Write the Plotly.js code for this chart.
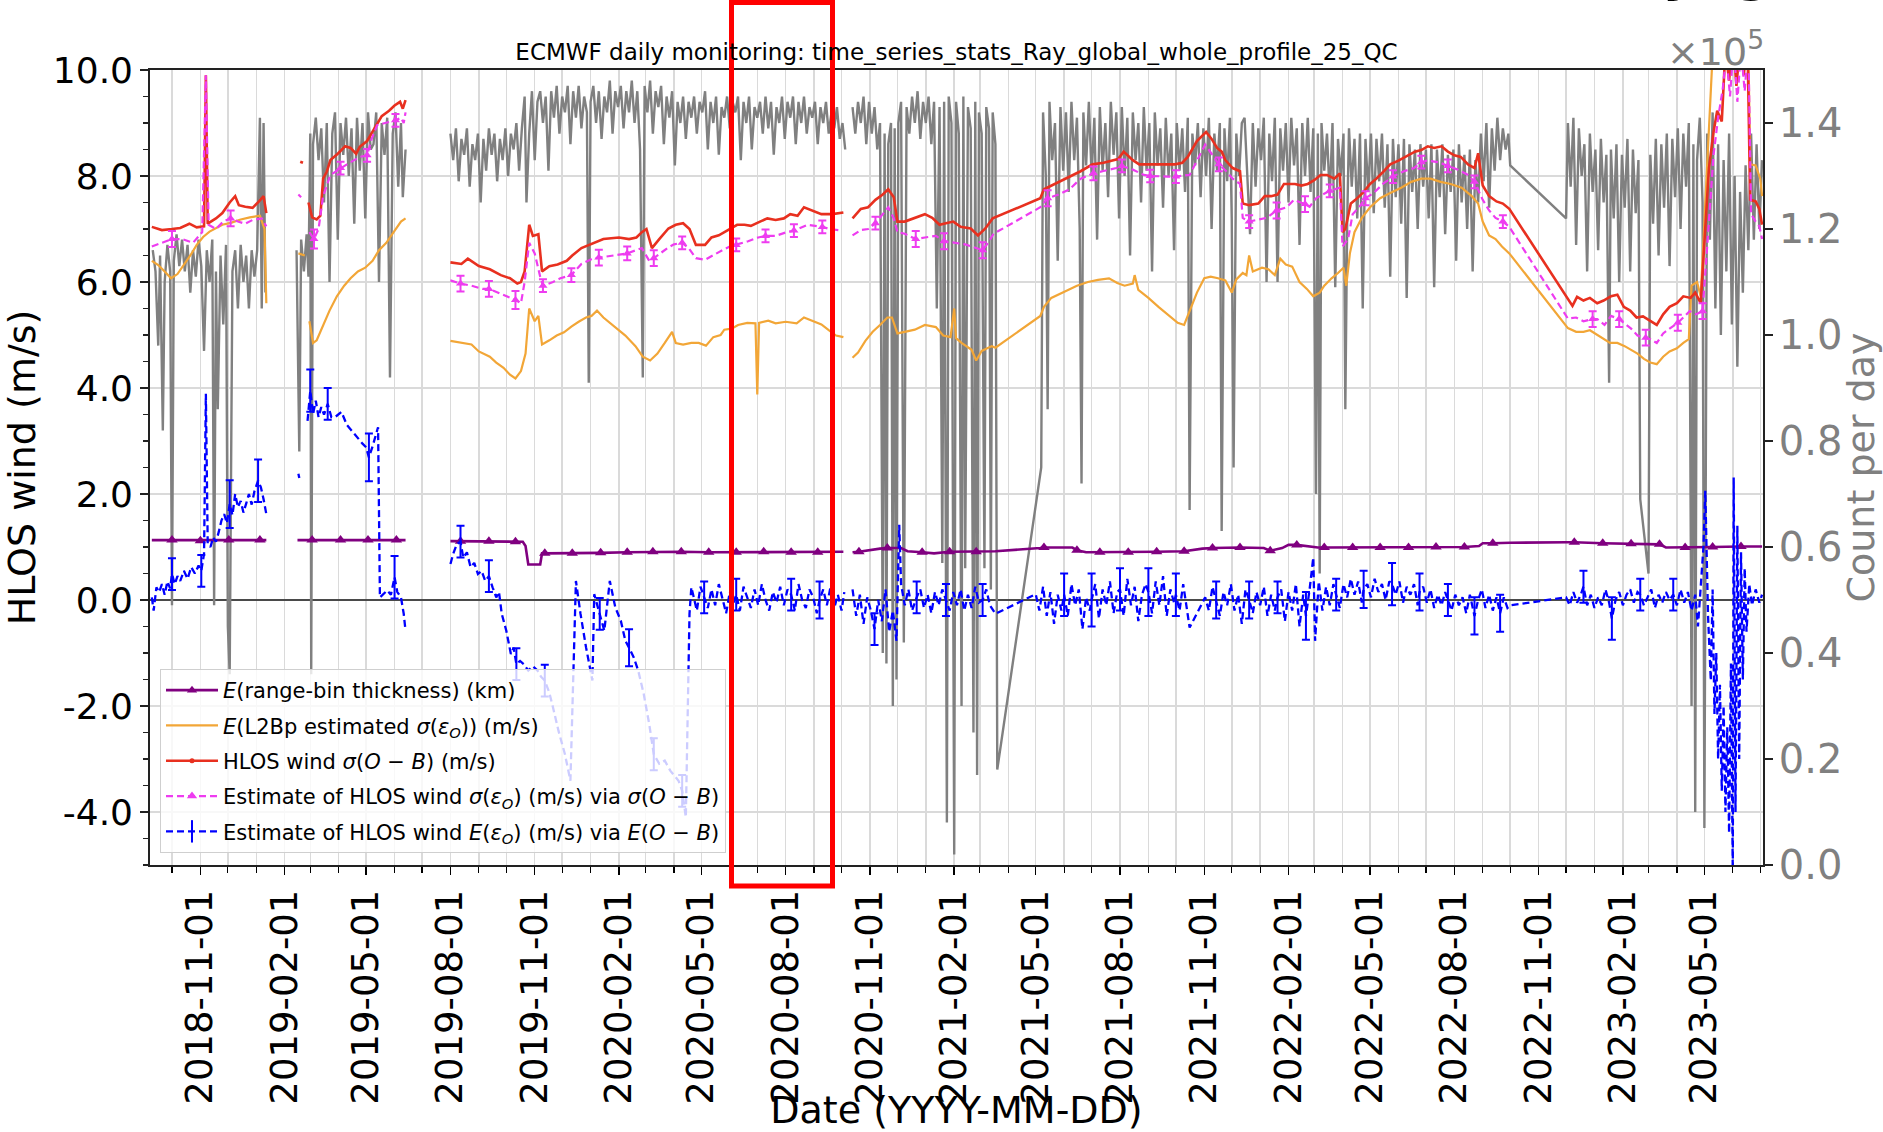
<!DOCTYPE html>
<html>
<head>
<meta charset="utf-8">
<script src="https://cdn.plot.ly/plotly-3.0.1.min.js"></script>
<style>
  html, body { margin: 0; padding: 0; background: #ffffff; }
  #chart { width: 1883px; height: 1132px; }
</style>
</head>
<body>
<div id="chart"></div>
<script>
// ECMWF daily monitoring of Aeolus Rayleigh HLOS winds (global, whole profile, QC applied).
// Each entry: [date, value] or [date, value, extra]; null values break the line.

// Count per day (units of 1e5), right axis
const countPerDay = [
  ['2018-09-10',1.16],['2018-09-13',1.12],['2018-09-16',0.98],['2018-09-18',1.15],['2018-09-21',0.82],['2018-09-23',1.10],
  ['2018-09-26',1.17],['2018-09-29',1.12],['2018-10-01',0.49],['2018-10-03',1.14],['2018-10-06',1.19],['2018-10-09',1.13],
  ['2018-10-12',1.18],['2018-10-15',1.12],['2018-10-18',1.17],['2018-10-21',1.08],['2018-10-24',1.16],['2018-10-27',1.11],
  ['2018-10-30',1.18],['2018-11-02',1.13],['2018-11-05',0.97],['2018-11-08',1.16],['2018-11-11',1.10],['2018-11-14',1.18],
  ['2018-11-16',0.49],['2018-11-18',1.12],['2018-11-20',0.86],['2018-11-23',1.15],['2018-11-26',1.02],['2018-11-29',1.17],
  ['2018-12-01',0.45],['2018-12-03',0.36],['2018-12-06',1.12],['2018-12-09',1.16],['2018-12-12',1.05],['2018-12-15',1.17],
  ['2018-12-18',1.10],['2018-12-21',1.15],['2018-12-24',1.05],['2018-12-27',1.16],['2018-12-30',1.11],['2019-01-02',1.16],
  ['2019-01-05',1.41],['2019-01-07',1.05],['2019-01-09',1.40],['2019-01-11',1.08],
  ['2019-01-20',null],
  ['2019-02-14',1.16],['2019-02-17',0.78],['2019-02-19',1.18],['2019-02-22',1.12],['2019-02-25',1.19],['2019-02-27',1.11],
  ['2019-03-01',1.38],['2019-03-02',0.36],['2019-03-04',1.36],['2019-03-07',1.41],['2019-03-10',1.33],['2019-03-13',1.39],
  ['2019-03-16',1.25],['2019-03-19',1.40],['2019-03-22',1.10],['2019-03-25',1.38],['2019-03-28',1.42],['2019-03-31',1.18],
  ['2019-04-03',1.40],['2019-04-06',1.34],['2019-04-09',1.41],['2019-04-12',1.30],['2019-04-15',1.39],['2019-04-18',1.21],
  ['2019-04-21',1.41],['2019-04-24',1.31],['2019-04-27',1.40],['2019-04-30',1.22],['2019-05-03',1.42],['2019-05-06',1.35],
  ['2019-05-09',1.36],['2019-05-12',1.42],['2019-05-15',1.10],['2019-05-18',1.40],['2019-05-21',1.34],['2019-05-24',1.41],
  ['2019-05-27',0.92],['2019-05-30',1.38],['2019-06-02',1.42],['2019-06-05',1.28],['2019-06-08',1.40],['2019-06-10',1.26],
  ['2019-06-13',1.35],
  ['2019-07-01',null],
  ['2019-08-01',1.38],['2019-08-04',1.33],['2019-08-07',1.39],['2019-08-10',1.29],['2019-08-13',1.37],['2019-08-16',1.34],
  ['2019-08-19',1.39],['2019-08-22',1.28],['2019-08-25',1.36],['2019-08-28',1.33],['2019-08-31',1.38],['2019-09-03',1.25],
  ['2019-09-06',1.37],['2019-09-09',1.31],['2019-09-12',1.39],['2019-09-15',1.34],['2019-09-18',1.38],['2019-09-21',1.29],
  ['2019-09-24',1.37],['2019-09-27',1.33],['2019-09-30',1.39],['2019-10-03',1.30],['2019-10-06',1.38],['2019-10-09',1.35],
  ['2019-10-12',1.40],['2019-10-15',1.31],['2019-10-18',1.39],['2019-10-21',1.45],['2019-10-23',1.25],['2019-10-26',1.38],
  ['2019-10-29',1.46],['2019-11-01',1.33],['2019-11-04',1.44],['2019-11-07',1.46],['2019-11-10',1.40],['2019-11-13',1.45],
  ['2019-11-16',1.31],['2019-11-19',1.46],['2019-11-22',1.41],['2019-11-25',1.47],['2019-11-28',1.38],['2019-12-01',1.45],
  ['2019-12-04',1.42],['2019-12-07',1.47],['2019-12-10',1.36],['2019-12-13',1.46],['2019-12-16',1.41],['2019-12-19',1.47],
  ['2019-12-22',1.39],['2019-12-25',1.45],['2019-12-28',1.42],['2019-12-30',0.91],['2020-01-01',1.44],['2020-01-04',1.47],
  ['2020-01-07',1.40],['2020-01-10',1.46],['2020-01-13',1.37],['2020-01-16',1.45],['2020-01-19',1.42],['2020-01-22',1.48],
  ['2020-01-25',1.38],['2020-01-28',1.46],['2020-01-31',1.43],['2020-02-03',1.47],['2020-02-06',1.39],['2020-02-09',1.46],
  ['2020-02-12',1.42],['2020-02-15',1.48],['2020-02-18',1.40],['2020-02-21',1.46],['2020-02-24',1.35],['2020-02-27',0.92],
  ['2020-02-29',1.47],['2020-03-03',1.42],['2020-03-06',1.48],['2020-03-09',1.38],['2020-03-12',1.46],['2020-03-15',1.43],
  ['2020-03-18',1.47],['2020-03-21',1.36],['2020-03-24',1.45],['2020-03-27',1.41],['2020-03-30',1.46],['2020-04-02',1.32],
  ['2020-04-05',1.44],['2020-04-08',1.40],['2020-04-11',1.45],['2020-04-14',1.37],['2020-04-17',1.44],['2020-04-20',1.41],
  ['2020-04-23',1.45],['2020-04-26',1.38],['2020-04-29',1.44],['2020-05-02',1.42],['2020-05-05',1.46],['2020-05-08',1.35],
  ['2020-05-11',1.44],['2020-05-14',1.40],['2020-05-17',1.45],['2020-05-20',1.34],['2020-05-23',1.43],['2020-05-26',1.41],
  ['2020-05-29',1.45],['2020-06-01',1.39],['2020-06-04',1.44],['2020-06-07',1.42],['2020-06-10',1.45],['2020-06-13',1.33],
  ['2020-06-16',1.44],['2020-06-19',1.40],['2020-06-22',1.45],['2020-06-25',1.35],['2020-06-28',1.43],['2020-07-01',1.41],
  ['2020-07-04',1.44],['2020-07-07',1.38],['2020-07-10',1.45],['2020-07-13',1.39],['2020-07-16',1.44],['2020-07-19',1.34],
  ['2020-07-22',1.43],['2020-07-25',1.40],['2020-07-28',1.45],['2020-07-31',1.37],['2020-08-03',1.44],['2020-08-06',1.41],
  ['2020-08-09',1.45],['2020-08-12',1.36],['2020-08-15',1.44],['2020-08-18',1.40],['2020-08-21',1.45],['2020-08-24',1.38],
  ['2020-08-27',1.43],['2020-08-30',1.41],['2020-09-02',1.44],['2020-09-05',1.36],['2020-09-08',1.43],['2020-09-11',1.40],
  ['2020-09-14',1.44],['2020-09-17',1.38],['2020-09-20',1.42],['2020-09-23',1.39],['2020-09-26',1.43],['2020-09-29',1.37],
  ['2020-10-02',1.40],['2020-10-05',1.35],
  ['2020-10-09',null],
  ['2020-10-13',1.43],['2020-10-16',1.38],['2020-10-19',1.44],['2020-10-22',1.40],['2020-10-25',1.45],['2020-10-28',1.36],
  ['2020-10-31',1.44],['2020-11-03',1.38],['2020-11-06',1.43],['2020-11-09',1.35],['2020-11-12',1.40],['2020-11-15',0.40],
  ['2020-11-17',1.38],['2020-11-19',0.38],['2020-11-21',1.36],['2020-11-24',1.40],['2020-11-26',0.30],['2020-11-28',1.39],
  ['2020-11-30',0.35],['2020-12-02',1.40],['2020-12-05',1.44],['2020-12-08',0.42],['2020-12-11',1.43],['2020-12-14',1.38],
  ['2020-12-17',1.45],['2020-12-20',1.40],['2020-12-23',1.46],['2020-12-26',1.37],['2020-12-29',1.44],['2021-01-01',1.40],
  ['2021-01-04',1.45],['2021-01-07',1.36],['2021-01-10',1.44],['2021-01-13',1.05],['2021-01-16',1.43],['2021-01-19',0.57],
  ['2021-01-21',1.44],['2021-01-24',0.08],['2021-01-26',1.45],['2021-01-29',1.40],['2021-02-01',0.02],['2021-02-03',1.44],
  ['2021-02-06',1.38],['2021-02-09',0.30],['2021-02-11',1.45],['2021-02-13',0.56],['2021-02-16',1.43],['2021-02-19',1.39],
  ['2021-02-22',0.25],['2021-02-24',1.44],['2021-02-26',0.17],['2021-02-28',1.42],['2021-03-03',1.38],['2021-03-06',0.56],
  ['2021-03-08',1.43],['2021-03-11',1.39],['2021-03-13',0.52],['2021-03-15',1.42],['2021-03-18',1.36],['2021-03-20',0.18],
  ['2021-05-07',0.75],['2021-05-09',1.42],['2021-05-12',1.30],['2021-05-14',0.86],['2021-05-16',1.44],['2021-05-19',1.33],
  ['2021-05-22',1.40],['2021-05-25',1.14],['2021-05-28',1.43],['2021-05-31',1.31],['2021-06-03',1.42],['2021-06-06',1.27],
  ['2021-06-09',1.44],['2021-06-12',1.33],['2021-06-15',1.41],['2021-06-18',1.20],['2021-06-20',0.72],['2021-06-22',1.42],
  ['2021-06-25',1.32],['2021-06-28',1.44],['2021-07-01',1.30],['2021-07-04',1.41],['2021-07-07',1.18],['2021-07-10',1.43],
  ['2021-07-13',1.31],['2021-07-16',1.40],['2021-07-19',1.26],['2021-07-22',1.44],['2021-07-25',1.34],['2021-07-28',1.42],
  ['2021-07-31',1.22],['2021-08-03',1.43],['2021-08-06',1.30],['2021-08-09',1.41],['2021-08-12',1.15],['2021-08-15',1.42],
  ['2021-08-18',1.33],['2021-08-21',1.40],['2021-08-24',1.25],['2021-08-27',1.43],['2021-08-30',1.31],['2021-09-02',1.40],
  ['2021-09-05',1.12],['2021-09-08',1.42],['2021-09-11',1.32],['2021-09-14',1.39],['2021-09-17',1.24],['2021-09-20',1.41],
  ['2021-09-23',1.30],['2021-09-26',1.38],['2021-09-29',1.16],['2021-10-02',1.40],['2021-10-05',1.31],['2021-10-08',1.39],
  ['2021-10-11',1.27],['2021-10-14',1.41],['2021-10-16',0.67],['2021-10-19',1.38],['2021-10-22',1.32],['2021-10-25',1.40],
  ['2021-10-28',1.26],['2021-10-31',1.39],['2021-11-03',1.30],['2021-11-06',1.41],['2021-11-09',1.20],['2021-11-12',1.38],
  ['2021-11-15',1.31],['2021-11-18',1.40],['2021-11-20',0.63],['2021-11-23',1.39],['2021-11-26',1.29],['2021-11-29',1.41],
  ['2021-12-01',1.22],['2021-12-03',0.75],['2021-12-06',1.38],['2021-12-09',1.30],['2021-12-12',1.40],['2021-12-15',1.41],
  ['2021-12-18',1.30],['2021-12-21',1.19],['2021-12-24',1.40],['2021-12-27',1.28],['2021-12-30',1.39],['2022-01-02',1.33],
  ['2022-01-05',1.41],['2022-01-08',1.10],['2022-01-11',1.38],['2022-01-14',1.29],['2022-01-17',1.41],['2022-01-20',1.10],
  ['2022-01-23',1.39],['2022-01-26',1.31],['2022-01-29',1.40],['2022-02-01',1.25],['2022-02-04',1.41],['2022-02-07',1.32],
  ['2022-02-10',1.39],['2022-02-13',1.17],['2022-02-16',1.40],['2022-02-19',1.30],['2022-02-22',1.41],['2022-02-25',1.27],
  ['2022-02-28',1.39],['2022-03-03',0.70],['2022-03-05',1.38],['2022-03-07',0.55],['2022-03-09',1.40],['2022-03-12',1.31],
  ['2022-03-15',1.38],['2022-03-18',1.26],['2022-03-21',1.40],['2022-03-24',1.09],['2022-03-27',1.37],['2022-03-30',1.30],
  ['2022-04-02',1.38],['2022-04-04',0.86],['2022-04-06',1.21],['2022-04-08',1.39],['2022-04-11',1.28],['2022-04-14',1.37],
  ['2022-04-17',1.22],['2022-04-20',1.38],['2022-04-23',1.05],['2022-04-26',1.37],['2022-04-29',1.27],['2022-05-02',1.38],
  ['2022-05-05',1.23],['2022-05-08',1.37],['2022-05-11',1.29],['2022-05-14',1.38],['2022-05-17',1.24],['2022-05-20',1.36],
  ['2022-05-23',1.11],['2022-05-26',1.37],['2022-05-29',1.26],['2022-06-01',1.36],['2022-06-04',1.21],['2022-06-07',1.37],
  ['2022-06-10',1.07],['2022-06-13',1.36],['2022-06-16',1.27],['2022-06-19',1.35],['2022-06-22',1.20],['2022-06-25',1.36],
  ['2022-06-28',1.28],['2022-07-01',1.35],['2022-07-04',1.22],['2022-07-07',1.36],['2022-07-10',1.09],['2022-07-13',1.35],
  ['2022-07-16',1.26],['2022-07-19',1.36],['2022-07-22',1.19],['2022-07-25',1.34],['2022-07-28',1.27],['2022-07-31',1.35],
  ['2022-08-03',1.14],['2022-08-06',1.36],['2022-08-09',1.25],['2022-08-12',1.34],['2022-08-15',1.20],['2022-08-18',1.35],
  ['2022-08-21',1.12],['2022-08-24',1.33],['2022-08-27',1.25],['2022-08-30',1.38],['2022-09-02',1.29],['2022-09-05',1.40],
  ['2022-09-08',1.24],['2022-09-11',1.39],['2022-09-14',1.31],['2022-09-17',1.41],['2022-09-20',1.33],['2022-09-23',1.39],
  ['2022-09-26',1.35],['2022-09-29',1.38],['2022-10-01',1.32],
  ['2022-12-01',1.22],['2022-12-03',1.40],['2022-12-06',1.28],['2022-12-09',1.41],['2022-12-12',1.17],['2022-12-15',1.39],
  ['2022-12-18',1.30],['2022-12-21',1.36],['2022-12-24',1.12],['2022-12-27',1.38],['2022-12-30',1.27],['2023-01-02',1.35],
  ['2023-01-05',1.16],['2023-01-08',1.37],['2023-01-11',1.25],['2023-01-14',1.34],['2023-01-17',0.91],['2023-01-19',1.35],
  ['2023-01-22',1.22],['2023-01-25',1.36],['2023-01-28',1.10],['2023-01-31',1.34],['2023-02-03',1.24],['2023-02-06',1.37],
  ['2023-02-09',1.12],['2023-02-12',1.35],['2023-02-15',1.23],['2023-02-18',1.33],['2023-02-20',0.69],
  ['2023-03-01',0.55],['2023-03-03',1.34],['2023-03-06',1.21],['2023-03-09',1.37],['2023-03-12',1.15],['2023-03-15',1.36],
  ['2023-03-18',1.24],['2023-03-21',1.38],['2023-03-24',1.13],['2023-03-27',1.37],['2023-03-30',1.26],['2023-04-02',1.39],
  ['2023-04-05',1.20],['2023-04-08',1.38],['2023-04-11',1.28],['2023-04-14',1.40],['2023-04-17',0.30],['2023-04-19',1.36],
  ['2023-04-21',0.10],['2023-04-23',1.33],['2023-04-26',1.41],['2023-04-29',1.25],['2023-05-01',0.07],['2023-05-04',1.38],
  ['2023-05-07',1.18],['2023-05-10',1.42],['2023-05-13',1.05],['2023-05-16',1.36],['2023-05-19',1.00],['2023-05-22',1.33],
  ['2023-05-25',1.12],['2023-05-28',1.38],['2023-05-31',1.02],['2023-06-03',1.30],['2023-06-06',0.94],['2023-06-09',1.27],
  ['2023-06-12',1.08],['2023-06-15',1.32],['2023-06-18',1.16],['2023-06-21',1.38],['2023-06-24',1.18],['2023-06-27',1.36],
  ['2023-06-30',1.20],['2023-07-03',1.33]
];

// E(range-bin thickness) in km; third element 1 = plotted marker
const rangeBinKm = [
  ['2018-09-09',1.13],['2018-10-01',1.13,1],['2018-11-01',1.12,1],['2018-12-02',1.13,1],['2019-01-05',1.13,1],['2019-01-12',1.13],
  ['2019-01-25',null],
  ['2019-02-15',1.13],['2019-03-03',1.13,1],['2019-04-03',1.13,1],['2019-05-03',1.13,1],['2019-06-03',1.13,1],['2019-06-13',1.13],
  ['2019-07-01',null],
  ['2019-08-01',1.11],['2019-08-12',1.11,1],['2019-09-12',1.11,1],['2019-10-11',1.10,1],['2019-10-19',1.10],['2019-10-22',1.02],
  ['2019-10-25',0.67],['2019-11-07',0.67],['2019-11-09',0.88],['2019-11-12',0.88,1],['2019-12-12',0.88,1],['2020-01-12',0.89,1],
  ['2020-02-10',0.90,1],['2020-03-09',0.91,1],['2020-04-09',0.91,1],['2020-05-09',0.90,1],['2020-06-08',0.90,1],['2020-07-08',0.91,1],
  ['2020-08-07',0.90,1],['2020-09-05',0.90,1],['2020-10-03',0.91],
  ['2020-10-08',null],
  ['2020-10-13',0.90],['2020-10-20',0.91,1],['2020-11-12',0.97],['2020-11-20',0.98,1],['2020-12-05',0.98],['2020-12-12',0.92],
  ['2020-12-28',0.90,1],['2021-01-10',0.88],['2021-01-27',0.91,1],['2021-02-25',0.91,1],['2021-03-18',0.92],['2021-05-06',0.98],
  ['2021-05-10',0.99,1],['2021-06-10',0.99],['2021-06-15',0.94,1],['2021-06-25',0.90],['2021-07-10',0.90,1],['2021-08-10',0.90,1],
  ['2021-09-10',0.91,1],['2021-10-10',0.92,1],['2021-10-30',0.97],['2021-11-10',0.98,1],['2021-12-10',0.99,1],['2022-01-05',0.98],
  ['2022-01-12',0.93,1],['2022-01-25',0.98],['2022-02-01',1.04],['2022-02-10',1.04,1],['2022-03-05',0.99],['2022-03-12',0.99,1],
  ['2022-04-12',0.99,1],['2022-05-12',0.99,1],['2022-06-12',0.99,1],['2022-07-12',1.00,1],['2022-08-12',1.00,1],['2022-08-28',1.02],
  ['2022-09-01',1.07],['2022-09-12',1.07,1],['2022-10-01',1.08],['2022-12-03',1.09],['2022-12-10',1.09,1],['2023-01-10',1.07,1],
  ['2023-02-10',1.06,1],['2023-03-13',1.05,1],['2023-03-20',0.99],['2023-04-10',0.99,1],['2023-05-01',1.00],['2023-05-10',1.00,1],
  ['2023-06-10',1.01,1],['2023-07-03',1.01]
];

// E(L2Bp estimated sigma(eps_O)) in m/s
const l2bpSigma = [
  ['2018-09-09',6.40],['2018-09-16',6.32],['2018-09-23',6.20],['2018-09-30',6.07],['2018-10-07',6.15],['2018-10-14',6.32],
  ['2018-10-21',6.50],['2018-10-28',6.70],['2018-11-04',6.85],['2018-11-11',6.95],['2018-11-18',7.02],['2018-11-25',7.08],
  ['2018-12-05',7.12],['2018-12-15',7.18],['2018-12-25',7.22],['2019-01-05',7.25],['2019-01-10',7.00],['2019-01-12',5.60],
  ['2019-01-25',null],
  ['2019-02-16',6.54],['2019-02-23',6.50],['2019-02-25',null],
  ['2019-02-28',5.26],['2019-03-04',4.85],['2019-03-08',4.90],['2019-03-15',5.19],['2019-03-22',5.46],['2019-03-30',5.73],
  ['2019-04-07',5.93],['2019-04-14',6.07],['2019-04-22',6.20],['2019-04-30',6.27],['2019-05-08',6.40],['2019-05-15',6.60],
  ['2019-05-23',6.74],['2019-05-31',6.94],['2019-06-08',7.14],['2019-06-13',7.20],
  ['2019-07-01',null],
  ['2019-08-01',4.89],['2019-08-13',4.85],['2019-08-24',4.82],['2019-09-01',4.69],['2019-09-13',4.59],['2019-09-20',4.48],
  ['2019-09-28',4.38],['2019-10-05',4.25],['2019-10-11',4.18],['2019-10-17',4.32],['2019-10-22',4.65],['2019-10-26',5.50],
  ['2019-11-01',5.26],['2019-11-05',5.36],['2019-11-09',4.82],['2019-11-17',4.90],['2019-11-25',4.99],['2019-12-03',5.05],
  ['2019-12-11',5.16],['2019-12-19',5.25],['2019-12-27',5.33],['2020-01-02',5.36],['2020-01-08',5.46],['2020-01-15',5.33],
  ['2020-01-27',5.16],['2020-02-08',4.99],['2020-02-19',4.79],['2020-02-27',4.59],['2020-03-06',4.52],['2020-03-14',4.65],
  ['2020-03-22',4.85],['2020-03-30',5.06],['2020-04-03',4.85],['2020-04-11',4.82],['2020-04-20',4.85],['2020-04-28',4.85],
  ['2020-05-06',4.80],['2020-05-14',4.96],['2020-05-22',5.00],['2020-05-26',5.10],['2020-06-03',5.12],['2020-06-10',5.19],
  ['2020-06-20',5.23],['2020-06-29',5.22],['2020-07-01',3.88],['2020-07-03',5.23],['2020-07-13',5.27],['2020-07-21',5.22],
  ['2020-08-01',5.25],['2020-08-13',5.22],['2020-08-21',5.33],['2020-08-29',5.27],['2020-09-09',5.20],['2020-09-17',5.09],
  ['2020-09-25',4.99],['2020-10-03',4.96],
  ['2020-10-08',null],
  ['2020-10-13',4.57],['2020-10-19',4.67],['2020-10-27',4.89],['2020-11-04',5.06],['2020-11-12',5.19],['2020-11-20',5.33],
  ['2020-11-25',5.33],['2020-12-01',5.03],['2020-12-09',5.06],['2020-12-20',5.10],['2020-12-31',5.19],['2021-01-12',5.15],
  ['2021-01-20',4.99],['2021-01-28',4.96],['2021-02-01',5.50],['2021-02-03',4.94],['2021-02-09',4.85],['2021-02-20',4.72],
  ['2021-02-25',4.52],['2021-03-03',4.70],['2021-03-14',4.79],['2021-03-18',4.76],
  ['2021-05-06',5.36],['2021-05-10',5.53],['2021-05-18',5.70],['2021-05-26',5.76],['2021-06-03',5.83],['2021-06-15',5.93],
  ['2021-06-27',6.00],['2021-07-08',6.04],['2021-07-20',6.07],['2021-07-29',5.98],['2021-08-06',5.93],['2021-08-15',5.97],
  ['2021-08-17',6.13],['2021-08-21',5.85],['2021-09-01',5.70],['2021-09-12',5.53],['2021-09-24',5.36],['2021-10-03',5.23],
  ['2021-10-10',5.19],['2021-10-16',5.46],['2021-10-24',5.80],['2021-11-01',6.07],['2021-11-08',6.10],['2021-11-16',6.07],
  ['2021-11-24',6.03],['2021-12-01',5.80],['2021-12-06',6.05],['2021-12-13',6.17],['2021-12-17',6.13],['2021-12-20',6.50],
  ['2021-12-24',6.20],['2022-01-03',6.27],['2022-01-10',6.24],['2022-01-17',6.13],['2022-01-23',6.44],['2022-01-29',6.33],
  ['2022-02-05',6.29],['2022-02-13',6.00],['2022-02-21',5.87],['2022-02-28',5.73],['2022-03-07',5.80],['2022-03-12',5.93],
  ['2022-03-20',6.07],['2022-03-27',6.17],['2022-04-02',6.27],['2022-04-05',5.93],['2022-04-09',6.54],['2022-04-14',6.94],
  ['2022-04-22',7.21],['2022-05-01',7.41],['2022-05-12',7.58],['2022-05-23',7.68],['2022-06-04',7.78],['2022-06-15',7.89],
  ['2022-06-26',7.95],['2022-07-06',7.95],['2022-07-17',7.89],['2022-07-28',7.85],['2022-08-09',7.78],['2022-08-20',7.62],
  ['2022-08-27',7.48],['2022-09-01',7.14],['2022-09-08',6.88],['2022-09-15',6.81],['2022-09-22',6.67],['2022-09-30',6.54],
  ['2022-12-03',5.13],['2022-12-12',5.06],['2022-12-20',5.06],['2022-12-27',5.09],['2023-01-04',5.00],['2023-01-11',4.92],
  ['2023-01-18',4.85],['2023-01-26',4.85],['2023-02-03',4.79],['2023-02-10',4.72],['2023-02-17',4.65],['2023-02-24',4.55],
  ['2023-03-03',4.48],['2023-03-10',4.45],['2023-03-17',4.59],['2023-03-24',4.69],['2023-04-01',4.75],['2023-04-08',4.85],
  ['2023-04-14',4.92],['2023-04-17',5.93],['2023-04-23',6.00],['2023-04-27',5.73],['2023-05-12',11.0],['2023-06-17',11.5],
  ['2023-06-20',8.22],['2023-06-26',8.20],['2023-07-01',7.95],['2023-07-03',7.62]
];

// HLOS wind sigma(O-B) in m/s
const sigmaOmB = [
  ['2018-09-09',7.04],['2018-09-20',6.98],['2018-10-01',7.00],['2018-10-10',7.02],['2018-10-20',7.10],['2018-10-28',7.03],
  ['2018-11-05',7.05],['2018-11-07',9.90],['2018-11-09',7.10],['2018-11-18',7.20],['2018-11-25',7.30],['2018-12-03',7.50],
  ['2018-12-09',7.62],['2018-12-13',7.45],['2018-12-20',7.42],['2018-12-28',7.40],['2019-01-04',7.52],['2019-01-09',7.62],
  ['2019-01-12',7.30],
  ['2019-01-25',null],
  ['2019-02-18',8.27],['2019-02-21',8.25],['2019-02-24',null],
  ['2019-02-27',7.50],['2019-03-03',7.22],['2019-03-08',7.18],['2019-03-12',7.25],['2019-03-15',7.95],['2019-03-19',8.08],
  ['2019-03-23',8.30],['2019-03-31',8.42],['2019-04-08',8.56],['2019-04-14',8.53],['2019-04-20',8.42],['2019-04-24',8.55],
  ['2019-05-02',8.66],['2019-05-08',8.83],['2019-05-12',8.96],['2019-05-18',9.13],['2019-05-26',9.23],['2019-06-01',9.33],
  ['2019-06-07',9.40],['2019-06-10',9.27],['2019-06-13',9.43],
  ['2019-07-01',null],
  ['2019-08-01',6.37],['2019-08-13',6.34],['2019-08-20',6.44],['2019-09-01',6.30],['2019-09-13',6.24],['2019-09-25',6.13],
  ['2019-10-05',6.07],['2019-10-13',5.97],['2019-10-17',6.00],['2019-10-21',6.20],['2019-10-26',7.08],['2019-10-30',6.87],
  ['2019-11-05',6.90],['2019-11-09',6.20],['2019-11-17',6.30],['2019-11-26',6.33],['2019-12-06',6.40],['2019-12-12',6.50],
  ['2019-12-22',6.64],['2020-01-04',6.74],['2020-01-15',6.81],['2020-02-01',6.84],['2020-02-12',6.81],['2020-02-20',6.84],
  ['2020-02-26',6.94],['2020-03-02',7.00],['2020-03-08',6.64],['2020-03-16',6.81],['2020-03-26',7.01],['2020-04-03',7.08],
  ['2020-04-11',7.11],['2020-04-18',7.00],['2020-04-25',6.70],['2020-05-05',6.70],['2020-05-12',6.84],['2020-05-20',6.88],
  ['2020-05-26',6.94],['2020-06-01',7.00],['2020-06-09',7.08],['2020-06-17',7.08],['2020-06-24',7.06],['2020-07-04',7.14],
  ['2020-07-12',7.20],['2020-07-21',7.17],['2020-07-30',7.20],['2020-08-06',7.28],['2020-08-14',7.25],['2020-08-21',7.41],
  ['2020-08-29',7.35],['2020-09-09',7.28],['2020-09-21',7.28],['2020-10-03',7.31],
  ['2020-10-08',null],
  ['2020-10-13',7.20],['2020-10-22',7.38],['2020-10-30',7.41],['2020-11-07',7.55],['2020-11-15',7.65],['2020-11-21',7.75],
  ['2020-11-27',7.60],['2020-12-01',7.14],['2020-12-09',7.14],['2020-12-20',7.21],['2020-12-31',7.28],['2021-01-08',7.21],
  ['2021-01-16',7.08],['2021-01-23',7.11],['2021-01-31',7.14],['2021-02-08',7.04],['2021-02-19',7.01],['2021-02-27',6.88],
  ['2021-03-07',7.01],['2021-03-15',7.20],
  ['2021-05-06',7.58],['2021-05-10',7.75],['2021-05-18',7.82],['2021-05-26',7.89],['2021-06-03',7.95],['2021-06-11',8.02],
  ['2021-06-19',8.09],['2021-07-02',8.22],['2021-07-14',8.25],['2021-07-30',8.32],['2021-08-05',8.46],['2021-08-15',8.30],
  ['2021-08-22',8.22],['2021-09-03',8.22],['2021-09-15',8.22],['2021-09-30',8.22],['2021-10-08',8.25],['2021-10-14',8.36],
  ['2021-10-24',8.66],['2021-11-03',8.83],['2021-11-09',8.70],['2021-11-15',8.53],['2021-11-20',8.46],['2021-11-24',8.30],
  ['2021-12-02',8.15],['2021-12-10',8.09],['2021-12-13',7.48],['2021-12-20',7.45],['2021-12-30',7.48],['2022-01-06',7.62],
  ['2022-01-13',7.62],['2022-01-20',7.65],['2022-01-27',7.85],['2022-02-08',7.85],['2022-02-15',7.82],['2022-02-22',7.85],
  ['2022-03-01',7.92],['2022-03-08',8.02],['2022-03-15',8.02],['2022-03-23',7.95],['2022-03-29',8.05],['2022-04-01',6.94],
  ['2022-04-04',7.00],['2022-04-10',7.48],['2022-04-15',7.55],['2022-04-23',7.68],['2022-05-01',7.85],['2022-05-08',7.95],
  ['2022-05-16',8.09],['2022-05-23',8.22],['2022-06-01',8.29],['2022-06-12',8.39],['2022-06-19',8.46],['2022-06-26',8.49],
  ['2022-07-03',8.56],['2022-07-10',8.53],['2022-07-18',8.56],['2022-07-25',8.46],['2022-08-01',8.39],['2022-08-08',8.36],
  ['2022-08-16',8.22],['2022-08-23',8.15],['2022-08-27',8.43],['2022-09-01',7.82],['2022-09-08',7.62],['2022-09-16',7.52],
  ['2022-09-23',7.48],['2022-09-30',7.38],
  ['2022-12-03',5.70],['2022-12-08',5.55],['2022-12-13',5.72],['2022-12-20',5.65],['2022-12-27',5.70],['2023-01-04',5.60],
  ['2023-01-11',5.65],['2023-01-19',5.73],['2023-01-26',5.76],['2023-02-02',5.53],['2023-02-09',5.46],['2023-02-16',5.33],
  ['2023-02-23',5.35],['2023-03-03',5.26],['2023-03-10',5.19],['2023-03-17',5.39],['2023-03-24',5.53],['2023-04-01',5.60],
  ['2023-04-08',5.73],['2023-04-16',5.70],['2023-04-21',5.80],['2023-04-27',5.60],['2023-05-02',7.00],['2023-05-06',8.15],
  ['2023-05-11',8.83],['2023-05-15',9.23],['2023-05-20',9.03],['2023-05-24',10.4],['2023-05-28',9.80],['2023-06-01',10.6],
  ['2023-06-05',9.70],['2023-06-09',10.5],['2023-06-13',9.90],['2023-06-17',10.6],['2023-06-20',7.55],['2023-06-26',7.52],
  ['2023-06-30',7.38],['2023-07-03',7.08]
];

// Estimate of HLOS wind sigma(eps_O) via sigma(O-B); third element = error-bar half width
const sigmaEpsO = [
  ['2018-09-09',6.67],['2018-09-20',6.74],['2018-10-01',6.81,0.15],['2018-10-12',6.81],['2018-10-24',6.74],['2018-11-03',6.94],
  ['2018-11-07',9.90],['2018-11-10',7.08],['2018-11-18',7.00],['2018-11-26',7.14],['2018-12-04',7.20,0.15],['2018-12-12',7.14],
  ['2018-12-20',7.10],['2018-12-28',7.17],['2019-01-07',7.20],['2019-01-12',7.05],
  ['2019-01-25',null],
  ['2019-02-16',7.65],['2019-02-19',7.60],['2019-02-24',null],
  ['2019-02-28',6.94],['2019-03-05',6.81,0.18],['2019-03-10',7.00],['2019-03-15',7.62],['2019-03-23',8.02],['2019-04-03',8.15,0.12],
  ['2019-04-10',8.22],['2019-04-17',8.29],['2019-04-24',8.36],['2019-05-02',8.39,0.12],['2019-05-07',8.70],['2019-05-13',8.96],
  ['2019-05-21',9.00],['2019-06-02',9.05,0.12],['2019-06-08',9.10],['2019-06-11',9.00],['2019-06-13',9.20],
  ['2019-07-01',null],
  ['2019-08-01',6.03],['2019-08-12',5.97,0.15],['2019-08-24',5.93],['2019-09-05',5.87],['2019-09-12',5.87,0.15],['2019-09-28',5.76],
  ['2019-10-11',5.66,0.17],['2019-10-17',5.60],['2019-10-21',6.00],['2019-10-26',6.74],['2019-11-01',6.54],['2019-11-07',6.10],
  ['2019-11-10',5.93,0.12],['2019-11-21',6.00],['2019-11-29',6.07],['2019-12-11',6.13,0.13],['2019-12-22',6.34],['2020-01-03',6.44],
  ['2020-01-10',6.46,0.15],['2020-01-26',6.50],['2020-02-10',6.54,0.13],['2020-02-26',6.64],['2020-03-05',6.40],['2020-03-10',6.45,0.15],
  ['2020-03-25',6.64],['2020-04-01',6.71],['2020-04-10',6.74,0.12],['2020-04-17',6.64],['2020-04-25',6.45],['2020-05-05',6.42],
  ['2020-05-13',6.50],['2020-05-24',6.60],['2020-06-01',6.67],['2020-06-08',6.70,0.12],['2020-06-21',6.77],['2020-07-02',6.84],
  ['2020-07-10',6.87,0.12],['2020-07-21',6.87],['2020-08-02',6.94],['2020-08-10',6.97,0.12],['2020-08-25',7.08],['2020-09-10',7.04,0.12],
  ['2020-09-18',7.00],['2020-10-01',6.97],
  ['2020-10-08',null],
  ['2020-10-13',6.88],['2020-10-22',6.98],['2020-10-30',7.00],['2020-11-07',7.11,0.12],['2020-11-15',7.28],['2020-11-21',7.41],
  ['2020-11-27',7.20],['2020-12-01',6.94],['2020-12-09',6.91],['2020-12-21',6.81,0.15],['2020-12-31',6.84],['2021-01-12',6.87],
  ['2021-01-21',6.77,0.15],['2021-02-01',6.74],['2021-02-13',6.71],['2021-02-25',6.64],['2021-03-04',6.60,0.15],['2021-03-10',6.74],
  ['2021-03-16',6.91],
  ['2021-05-06',7.41],['2021-05-14',7.58,0.15],['2021-05-26',7.65],['2021-06-07',7.75],['2021-06-19',7.95],['2021-07-03',8.05,0.13],
  ['2021-07-13',8.09],['2021-07-28',8.15],['2021-08-03',8.19,0.12],['2021-08-15',8.12],['2021-08-27',8.02],['2021-09-03',8.00,0.12],
  ['2021-09-22',7.99],['2021-10-01',7.99,0.12],['2021-10-16',8.02],['2021-10-24',8.29],['2021-11-02',8.59],['2021-11-09',8.42],
  ['2021-11-17',8.22,0.13],['2021-11-25',8.09],['2021-12-02',7.95],['2021-12-10',7.85],['2021-12-13',7.21],['2021-12-20',7.14,0.12],
  ['2021-12-30',7.18],['2022-01-08',7.21],['2022-01-19',7.35,0.15],['2022-01-30',7.41],['2022-02-07',7.55],['2022-02-19',7.47,0.15],
  ['2022-02-24',7.42],['2022-03-03',7.58],['2022-03-10',7.65],['2022-03-18',7.72,0.12],['2022-03-29',7.78],['2022-04-01',6.67],
  ['2022-04-07',6.81],['2022-04-12',7.28],['2022-04-19',7.41],['2022-04-26',7.58,0.13],['2022-05-05',7.68],['2022-05-15',7.85],
  ['2022-05-26',7.99,0.12],['2022-06-07',8.09],['2022-06-18',8.15],['2022-06-26',8.26,0.12],['2022-07-02',8.29],['2022-07-15',8.26],
  ['2022-07-25',8.19,0.12],['2022-08-05',8.12],['2022-08-16',8.02],['2022-08-23',7.89,0.12],['2022-09-01',7.55],['2022-09-08',7.35],
  ['2022-09-15',7.21],['2022-09-23',7.14,0.12],['2022-09-30',7.04],
  ['2022-12-03',5.31],['2022-12-12',5.33],['2022-12-20',5.26],['2022-12-30',5.30,0.15],['2023-01-04',5.30],['2023-01-12',5.19],
  ['2023-01-19',5.36],['2023-01-28',5.30,0.15],['2023-02-03',5.22],['2023-02-10',5.12],['2023-02-17',4.99],['2023-02-26',4.95,0.15],
  ['2023-03-03',4.92],['2023-03-10',4.85],['2023-03-17',5.03],['2023-03-24',5.12],['2023-04-02',5.23,0.15],['2023-04-08',5.33],
  ['2023-04-15',5.45],['2023-04-22',5.39],['2023-04-29',5.45,0.15],['2023-05-03',6.40],['2023-05-07',7.48],['2023-05-11',8.40],
  ['2023-05-16',9.10],['2023-05-21',9.64],['2023-05-25',10.3],['2023-05-29',9.50],['2023-06-02',10.5],['2023-06-06',9.40],
  ['2023-06-10',10.4],['2023-06-14',9.60],['2023-06-18',10.5],['2023-06-21',7.28],['2023-06-26',7.14],['2023-06-30',7.05],
  ['2023-07-03',6.81]
];

// Estimate of HLOS wind E(eps_O) via E(O-B); third element = error-bar half width
const meanEpsO = [
  ['2018-09-09',0.05],['2018-09-11',-0.20],['2018-09-14',0.24],['2018-09-17',0.15],['2018-09-20',0.30],['2018-09-23',0.10],
  ['2018-09-26',0.35],['2018-09-29',0.22],['2018-10-01',0.49,0.30],['2018-10-04',0.30],['2018-10-07',0.45],['2018-10-10',0.36],
  ['2018-10-14',0.55],['2018-10-18',0.40],['2018-10-22',0.62],['2018-10-26',0.50],['2018-10-30',0.65],['2018-11-02',0.55,0.30],
  ['2018-11-05',0.87],['2018-11-07',3.89],['2018-11-09',1.06],['2018-11-12',1.00],['2018-11-15',1.18],['2018-11-18',1.10],
  ['2018-11-21',1.28],['2018-11-24',1.50],['2018-11-27',1.62],['2018-11-30',1.45],['2018-12-03',1.81,0.45],['2018-12-06',1.60],
  ['2018-12-09',2.00],['2018-12-12',1.75],['2018-12-15',1.87],['2018-12-18',1.65],['2018-12-21',1.82],['2018-12-24',2.00],
  ['2018-12-27',1.80],['2018-12-30',2.05],['2019-01-03',2.25,0.40],['2019-01-06',2.13],['2019-01-09',1.90],['2019-01-12',1.62],
  ['2019-01-25',null],
  ['2019-02-16',2.38],['2019-02-17',2.30],['2019-02-20',null],
  ['2019-02-26',3.38],['2019-03-01',3.95,0.40],['2019-03-04',3.51],['2019-03-07',3.76],['2019-03-10',3.45],['2019-03-13',3.64],
  ['2019-03-16',3.50],['2019-03-20',3.70,0.30],['2019-03-24',3.45],['2019-03-28',3.45],['2019-04-04',3.55],['2019-04-10',3.30],
  ['2019-04-15',3.20],['2019-04-21',3.07],['2019-04-27',2.95],['2019-05-01',2.88],['2019-05-04',2.69,0.45],['2019-05-08',2.90],
  ['2019-05-11',3.07],['2019-05-14',3.26],['2019-05-16',0.05],['2019-05-20',0.11],['2019-05-24',0.18],['2019-05-28',0.10],
  ['2019-06-01',0.43,0.40],['2019-06-04',0.15],['2019-06-08',0.05],['2019-06-11',-0.26],['2019-06-13',-0.58],
  ['2019-07-01',null],
  ['2019-08-01',0.68],['2019-08-04',0.87],['2019-08-08',1.06],['2019-08-12',1.10,0.30],['2019-08-15',0.80],['2019-08-19',0.90],
  ['2019-08-23',0.62],['2019-08-27',0.70],['2019-08-31',0.49],['2019-09-04',0.55],['2019-09-08',0.36],['2019-09-12',0.45,0.30],
  ['2019-09-16',0.24],['2019-09-20',0.05],['2019-09-23',0.15],['2019-09-26',-0.26],['2019-10-01',-0.58],['2019-10-06',-1.02],
  ['2019-10-09',-0.90],['2019-10-12',-1.21,0.30],['2019-10-16',-1.15],['2019-10-20',-1.21],['2019-10-25',-1.33],['2019-10-30',-1.25],
  ['2019-11-04',-1.33],['2019-11-08',-1.45],['2019-11-12',-1.52,0.30],['2019-11-17',-1.75],['2019-11-21',-2.03],['2019-11-27',-2.47],
  ['2019-12-04',-2.91],['2019-12-10',-3.41],['2019-12-16',0.36],['2019-12-21',-0.26],['2019-12-27',-0.89],['2020-01-03',-1.52],
  ['2020-01-05',0.11],['2020-01-11',-0.26,0.30],['2020-01-16',-0.58],['2020-01-22',0.36],['2020-01-28',-0.14],['2020-02-03',-0.39],
  ['2020-02-08',-0.77],['2020-02-12',-0.90,0.35],['2020-02-17',-1.08],['2020-02-22',-1.33],['2020-02-28',-1.77],['2020-03-05',-2.34],
  ['2020-03-10',-2.91,0.30],['2020-03-16',-3.09],['2020-03-22',-3.03],['2020-03-28',-3.22],['2020-04-06',-3.41],['2020-04-10',-3.60,0.30],
  ['2020-04-14',-4.10],['2020-04-18',-0.26],['2020-04-20',0.24],
  ['2020-04-22',0.10],['2020-04-26',-0.20],['2020-04-30',0.25],['2020-05-04',0.05,0.30],['2020-05-08',-0.15],['2020-05-12',0.20],
  ['2020-05-16',-0.10],['2020-05-20',0.30],['2020-05-24',0.00],['2020-05-28',-0.25],['2020-06-01',0.15],['2020-06-05',-0.05],
  ['2020-06-08',0.10,0.30],['2020-06-12',-0.20],['2020-06-16',0.25],['2020-06-20',0.05],['2020-06-24',-0.15],['2020-06-28',0.20],
  ['2020-07-02',-0.10],['2020-07-06',0.30],['2020-07-10',0.00],['2020-07-14',-0.20],['2020-07-18',0.15],['2020-07-22',-0.05],
  ['2020-07-26',0.25],['2020-07-30',-0.10],['2020-08-03',0.20],['2020-08-07',0.10,0.30],['2020-08-11',-0.20],['2020-08-15',0.30],
  ['2020-08-19',0.00],['2020-08-23',-0.15],['2020-08-27',0.20],['2020-08-31',0.05],['2020-09-04',-0.25],['2020-09-07',0.00,0.35],
  ['2020-09-11',0.20],['2020-09-15',-0.10],['2020-09-19',0.25],['2020-09-23',-0.15],['2020-09-27',0.10],['2020-10-01',-0.20],
  ['2020-10-04',0.15],
  ['2020-10-08',null],
  ['2020-10-13',0.20],['2020-10-17',-0.30],['2020-10-21',0.10],['2020-10-25',-0.45],['2020-10-29',0.05],['2020-11-02',-0.20],
  ['2020-11-06',-0.55,0.30],['2020-11-10',0.00],['2020-11-14',-0.40],['2020-11-18',0.20],['2020-11-22',-0.60],['2020-11-26',-0.20],
  ['2020-11-30',-0.77],['2020-12-03',1.42],['2020-12-05',0.30],['2020-12-09',-0.10],['2020-12-13',0.20],['2020-12-17',-0.20],
  ['2020-12-22',0.05,0.30],['2020-12-26',0.20],['2020-12-30',-0.15],['2021-01-03',0.10],['2021-01-07',-0.25],['2021-01-11',0.15],
  ['2021-01-15',-0.10],['2021-01-19',0.20],['2021-01-23',0.00,0.30],['2021-01-27',-0.20],['2021-01-31',0.15],['2021-02-04',-0.10],
  ['2021-02-08',0.20],['2021-02-12',-0.20],['2021-02-16',0.10],['2021-02-20',-0.15],['2021-02-24',0.25],['2021-02-28',-0.05],
  ['2021-03-04',0.00,0.30],['2021-03-08',0.20],['2021-03-12',-0.10],['2021-03-18',-0.26],
  ['2021-05-01',0.11],['2021-05-05',-0.20],['2021-05-09',0.25],['2021-05-13',-0.30],['2021-05-17',0.15],['2021-05-21',-0.45],
  ['2021-05-25',0.10],['2021-05-29',-0.20],['2021-06-01',0.10,0.40],['2021-06-05',-0.30],['2021-06-09',0.30],['2021-06-13',-0.10],
  ['2021-06-17',0.20],['2021-06-21',-0.55],['2021-06-25',0.05],['2021-06-29',-0.20],['2021-07-01',0.00,0.50],['2021-07-05',0.30],
  ['2021-07-09',-0.35],['2021-07-13',0.20],['2021-07-17',-0.10],['2021-07-21',0.35],['2021-07-25',-0.25],['2021-07-29',0.15],
  ['2021-08-01',0.20,0.40],['2021-08-05',-0.30],['2021-08-09',0.40],['2021-08-13',-0.10],['2021-08-17',0.25],['2021-08-21',-0.40],
  ['2021-08-25',0.10],['2021-08-29',0.30],['2021-09-01',0.15,0.45],['2021-09-05',-0.25],['2021-09-09',0.35],['2021-09-13',-0.10],
  ['2021-09-17',0.45],['2021-09-21',-0.30],['2021-09-25',0.20],['2021-09-29',-0.05],['2021-10-01',0.10,0.40],['2021-10-05',-0.20],
  ['2021-10-09',0.30],['2021-10-13',-0.15],['2021-10-16',-0.52],
  ['2021-11-02',0.05],['2021-11-06',-0.20],['2021-11-10',0.25],['2021-11-14',0.00,0.35],['2021-11-18',-0.30],['2021-11-22',0.15],
  ['2021-11-26',-0.10],['2021-11-30',0.30],['2021-12-04',-0.20],['2021-12-08',0.10],['2021-12-12',-0.45],['2021-12-16',0.20],
  ['2021-12-20',0.00,0.35],['2021-12-24',-0.25],['2021-12-28',0.15],['2022-01-01',-0.10],['2022-01-05',0.25],['2022-01-09',-0.30],
  ['2022-01-13',0.10],['2022-01-17',-0.20],['2022-01-20',0.05,0.30],['2022-01-24',0.20],['2022-01-28',-0.40],['2022-02-01',0.15],
  ['2022-02-05',-0.20],['2022-02-09',0.30],['2022-02-13',-0.50],['2022-02-17',0.10],['2022-02-20',-0.30,0.45],['2022-02-24',0.20],
  ['2022-02-28',0.80],['2022-03-02',-0.77],['2022-03-06',0.35],['2022-03-10',-0.20],['2022-03-14',0.25],['2022-03-18',-0.10],
  ['2022-03-22',0.30],['2022-03-25',0.10,0.30],['2022-03-29',-0.15],['2022-04-02',0.30],['2022-04-06',0.05],['2022-04-10',0.40],
  ['2022-04-14',0.10],['2022-04-18',0.35],['2022-04-22',-0.05],['2022-04-24',0.20,0.35],['2022-04-28',0.30],['2022-05-02',0.05],
  ['2022-05-06',0.40],['2022-05-10',0.15],['2022-05-14',0.30],['2022-05-18',0.00],['2022-05-22',0.35],['2022-05-25',0.30,0.40],
  ['2022-05-29',0.10],['2022-06-02',0.35],['2022-06-06',-0.05],['2022-06-10',0.25],['2022-06-14',0.10],['2022-06-18',0.30],
  ['2022-06-22',-0.10],['2022-06-24',0.15,0.35],['2022-06-28',0.25],['2022-07-02',-0.05],['2022-07-06',0.20],['2022-07-10',-0.15],
  ['2022-07-14',0.10],['2022-07-18',-0.10],['2022-07-22',0.15],['2022-07-25',0.00,0.30],['2022-07-29',-0.20],['2022-08-02',0.10],
  ['2022-08-06',-0.10],['2022-08-10',0.05],['2022-08-14',-0.25],['2022-08-18',0.10],['2022-08-23',-0.30,0.35],['2022-08-27',0.00],
  ['2022-08-31',0.20],['2022-09-04',-0.15],['2022-09-08',0.10],['2022-09-12',-0.20],['2022-09-16',0.05],['2022-09-20',-0.25,0.35],
  ['2022-09-24',0.05],['2022-09-28',-0.15],['2022-10-01',-0.10],
  ['2022-12-01',0.05],['2022-12-05',-0.10],['2022-12-09',0.15],['2022-12-13',-0.05],['2022-12-17',0.10],['2022-12-20',0.25,0.30],
  ['2022-12-24',-0.10],['2022-12-28',0.10],['2023-01-01',-0.15],['2023-01-05',0.05],['2023-01-09',-0.10],['2023-01-13',0.20],
  ['2023-01-17',-0.05],['2023-01-20',-0.35,0.40],['2023-01-24',0.00],['2023-01-28',0.15],['2023-02-01',-0.10],['2023-02-05',0.10],
  ['2023-02-09',0.20],['2023-02-13',-0.05],['2023-02-17',0.15],['2023-02-20',0.10,0.30],['2023-02-24',-0.10],['2023-02-28',0.05],
  ['2023-03-04',0.20],['2023-03-08',-0.15],['2023-03-12',0.10],['2023-03-16',-0.05],['2023-03-20',0.15],['2023-03-24',0.00],
  ['2023-03-28',0.10,0.30],['2023-04-01',-0.10],['2023-04-05',0.20],['2023-04-09',-0.05],['2023-04-13',0.15],['2023-04-17',-0.20],
  ['2023-04-21',0.10],['2023-04-24',-0.50],['2023-04-27',0.20],['2023-04-30',1.00],['2023-05-02',2.06],['2023-05-05',-0.30],
  ['2023-05-08',-1.52],['2023-05-10',0.20],['2023-05-12',-2.15],['2023-05-14',-1.00],['2023-05-16',-3.00],['2023-05-18',-1.60],
  ['2023-05-20',-3.60],['2023-05-22',-2.00],['2023-05-24',-4.00],['2023-05-26',-2.40],['2023-05-28',-4.40],['2023-05-30',-1.20],
  ['2023-06-01',-5.20],['2023-06-02',2.31],['2023-06-04',-4.00],['2023-06-06',1.40],['2023-06-08',-3.00],['2023-06-10',0.90],
  ['2023-06-12',-1.50],['2023-06-14',0.60],['2023-06-16',-0.60],['2023-06-19',0.30],['2023-06-22',-0.10],['2023-06-26',0.20],
  ['2023-06-30',-0.05],['2023-07-03',0.10]
];

const titleText = 'ECMWF daily monitoring: time_series_stats_Ray_global_whole_profile_25_QC';
const headerFragment = '<b>daily, g</b>';
const legendNames = [
  '<i>E</i>(range-bin thickness) (km)',
  '<i>E</i>(L2Bp estimated <i>σ</i>(<i>ε<sub>O</sub></i>)) (m/s)',
  'HLOS wind <i>σ</i>(<i>O</i> − <i>B</i>) (m/s)',
  'Estimate of HLOS wind <i>σ</i>(<i>ε<sub>O</sub></i>) (m/s) via <i>σ</i>(<i>O</i> − <i>B</i>)',
  'Estimate of HLOS wind <i>E</i>(<i>ε<sub>O</sub></i>) (m/s) via <i>E</i>(<i>O</i> − <i>B</i>)'
];
const windTicks = [-4, -2, 0, 2, 4, 6, 8, 10];
const countTicks = [0, 0.2, 0.4, 0.6, 0.8, 1.0, 1.2, 1.4];

const FONT = 'DejaVu Sans, Verdana, sans-serif';
const C = {
  gray: '#808080', purple: '#800080', orange: '#f2a637',
  red: '#e8301f', magenta: '#ee3cf0', blue: '#0000ff'
};

const xs = a => a.map(p => p[0]);
const ys = a => a.map(p => p[1]);
const flagged = a => a.filter(p => p.length > 2);

const traces = [];

// grey count series on the base (right-hand) axis, drawn beneath everything
traces.push({
  x: xs(countPerDay), y: ys(countPerDay), yaxis: 'y', type: 'scatter', mode: 'lines',
  line: { color: C.gray, width: 2.4 }, connectgaps: false, showlegend: false, hoverinfo: 'skip'
});

// wind statistics on the overlaying left axis
function lineTrace(arr, color, width, dash) {
  return {
    x: xs(arr), y: ys(arr), yaxis: 'y2', type: 'scatter', mode: 'lines',
    line: { color: color, width: width, dash: dash || 'solid' },
    connectgaps: false, showlegend: false, hoverinfo: 'skip'
  };
}
traces.push(lineTrace(rangeBinKm, C.purple, 2.6));
traces.push({
  x: xs(flagged(rangeBinKm)), y: ys(flagged(rangeBinKm)), yaxis: 'y2', type: 'scatter', mode: 'markers',
  marker: { symbol: 'triangle-up', size: 10, color: C.purple }, showlegend: false, hoverinfo: 'skip'
});
traces.push(lineTrace(l2bpSigma, C.orange, 2.2));
traces.push(lineTrace(sigmaOmB, C.red, 2.6));
traces.push(lineTrace(sigmaEpsO, C.magenta, 2.2, '7px,4px'));
traces.push({
  x: xs(flagged(sigmaEpsO)), y: ys(flagged(sigmaEpsO)), yaxis: 'y2', type: 'scatter', mode: 'markers',
  marker: { symbol: 'triangle-up', size: 8, color: C.magenta },
  error_y: { type: 'data', array: flagged(sigmaEpsO).map(p => p[2]), color: C.magenta, thickness: 2, width: 4 },
  showlegend: false, hoverinfo: 'skip'
});
traces.push(lineTrace(meanEpsO, C.blue, 2.3, '7px,4px'));
traces.push({
  x: xs(flagged(meanEpsO)), y: ys(flagged(meanEpsO)), yaxis: 'y2', type: 'scatter', mode: 'markers',
  marker: { size: 2, color: C.blue, opacity: 0 },
  error_y: { type: 'data', array: flagged(meanEpsO).map(p => p[2]), color: C.blue, thickness: 2, width: 4 },
  showlegend: false, hoverinfo: 'skip'
});

// legend entries
const legendStyles = [
  { mode: 'lines+markers', line: { color: C.purple, width: 2.6 }, marker: { symbol: 'triangle-up', size: 9, color: C.purple } },
  { mode: 'lines', line: { color: C.orange, width: 2.2 } },
  { mode: 'lines+markers', line: { color: C.red, width: 2.6 }, marker: { symbol: 'circle', size: 5, color: C.red } },
  { mode: 'lines+markers', line: { color: C.magenta, width: 2.2, dash: '7px,4px' }, marker: { symbol: 'triangle-up', size: 9, color: C.magenta } },
  { mode: 'lines+markers', line: { color: C.blue, width: 2.2, dash: '7px,4px' }, marker: { symbol: 'line-ns', size: 16, color: C.blue, line: { color: C.blue, width: 2 } } }
];
legendStyles.forEach((s, i) => {
  traces.push(Object.assign({
    x: [null], y: [null], yaxis: 'y2', type: 'scatter', name: legendNames[i],
    legendgroup: 'g' + i, showlegend: true, hoverinfo: 'skip'
  }, s));
});

const gridColor = '#dadada';
const layout = {
  width: 1883, height: 1132,
  margin: { l: 150, r: 120, t: 70, b: 267, pad: 0 },
  paper_bgcolor: '#ffffff', plot_bgcolor: '#ffffff',
  font: { family: FONT, color: '#000000' },
  showlegend: true,
  title: {
    text: titleText, font: { family: FONT, size: 23, color: '#000000' },
    x: 0.5, xref: 'paper', xanchor: 'center', y: 1 - 52 / 1132, yref: 'container', yanchor: 'middle'
  },
  xaxis: {
    type: 'date', range: ['2018-09-07', '2023-07-04'],
    tickmode: 'linear', tick0: '2018-11-01', dtick: 'M3', tickformat: '%Y-%m-%d',
    tickangle: -90, tickfont: { family: FONT, size: 37, color: '#000000' },
    ticks: 'outside', ticklen: 8, tickwidth: 1.5, tickcolor: '#000000',
    showgrid: true, gridcolor: gridColor, gridwidth: 1.5,
    minor: { tickmode: 'linear', tick0: '2018-10-01', dtick: 'M1', ticks: 'outside', ticklen: 6, tickwidth: 1.2, tickcolor: '#000000',
             showgrid: true, gridcolor: gridColor, gridwidth: 1.5 },
    showline: true, linecolor: '#222222', linewidth: 1.8, mirror: true, zeroline: false,
    title: { text: 'Date (YYYY-MM-DD)', font: { family: FONT, size: 38, color: '#000000' }, standoff: 2 }
  },
  yaxis: {
    side: 'right', range: [0, 1.5],
    tickmode: 'array', tickvals: countTicks, ticktext: countTicks.map(v => v.toFixed(1)),
    tickfont: { family: FONT, size: 40, color: C.gray }, ticklabelstandoff: -2,
    ticks: 'outside', ticklen: 8, tickwidth: 1.5, tickcolor: '#222222',
    showgrid: false, zeroline: false, showline: true, linecolor: '#222222', linewidth: 1.8,
    title: { text: 'Count per day', font: { family: FONT, size: 38, color: C.gray }, standoff: 8 }
  },
  yaxis2: {
    overlaying: 'y', side: 'left', range: [-5, 10],
    tickmode: 'array', tickvals: windTicks, ticktext: windTicks.map(v => v.toFixed(1)),
    tickfont: { family: FONT, size: 36, color: '#000000' },
    ticks: 'outside', ticklen: 8, tickwidth: 1.5, tickcolor: '#222222',
    minor: { tickmode: 'linear', tick0: -5, dtick: 0.5, ticks: 'outside', ticklen: 5, tickwidth: 1.2, tickcolor: '#222222', showgrid: false },
    showgrid: true, gridcolor: gridColor, gridwidth: 1.5,
    zeroline: true, zerolinecolor: '#4a4a4a', zerolinewidth: 2,
    showline: true, linecolor: '#222222', linewidth: 1.8,
    title: { text: 'HLOS wind (m/s)', font: { family: FONT, size: 38, color: '#000000' }, standoff: 8 }
  },
  legend: {
    x: 0.0062, y: 0.0151, xanchor: 'left', yanchor: 'bottom', xref: 'paper', yref: 'paper',
    bgcolor: 'rgba(255,255,255,0.8)', bordercolor: '#cfcfcf', borderwidth: 1,
    font: { family: FONT, size: 21, color: '#000000' },
    traceorder: 'grouped', tracegroupgap: 5, itemwidth: 52
  },
  annotations: [
    { text: '×10<sup>5</sup>', xref: 'paper', yref: 'paper', x: 1.002, y: 1.0, xanchor: 'right', yanchor: 'bottom',
      yshift: -6, showarrow: false, font: { family: FONT, size: 38, color: C.gray } },
    { text: headerFragment, xref: 'paper', yref: 'paper', x: (1546 - 150) / 1613, y: 1 + 66 / 795,
      xanchor: 'left', yanchor: 'bottom', showarrow: false, font: { family: FONT, size: 55, color: '#000000' } }
  ],
  shapes: [
    { type: 'rect', xref: 'paper', yref: 'paper', layer: 'above',
      x0: (731.5 - 150) / 1613, x1: (832.5 - 150) / 1613, y0: (865 - 886) / 795, y1: (865 - 2.5) / 795,
      line: { color: '#ff0000', width: 5 }, fillcolor: 'rgba(0,0,0,0)' }
  ]
};

Plotly.newPlot('chart', traces, layout, { displayModeBar: false, staticPlot: true });
</script>
</body>
</html>
